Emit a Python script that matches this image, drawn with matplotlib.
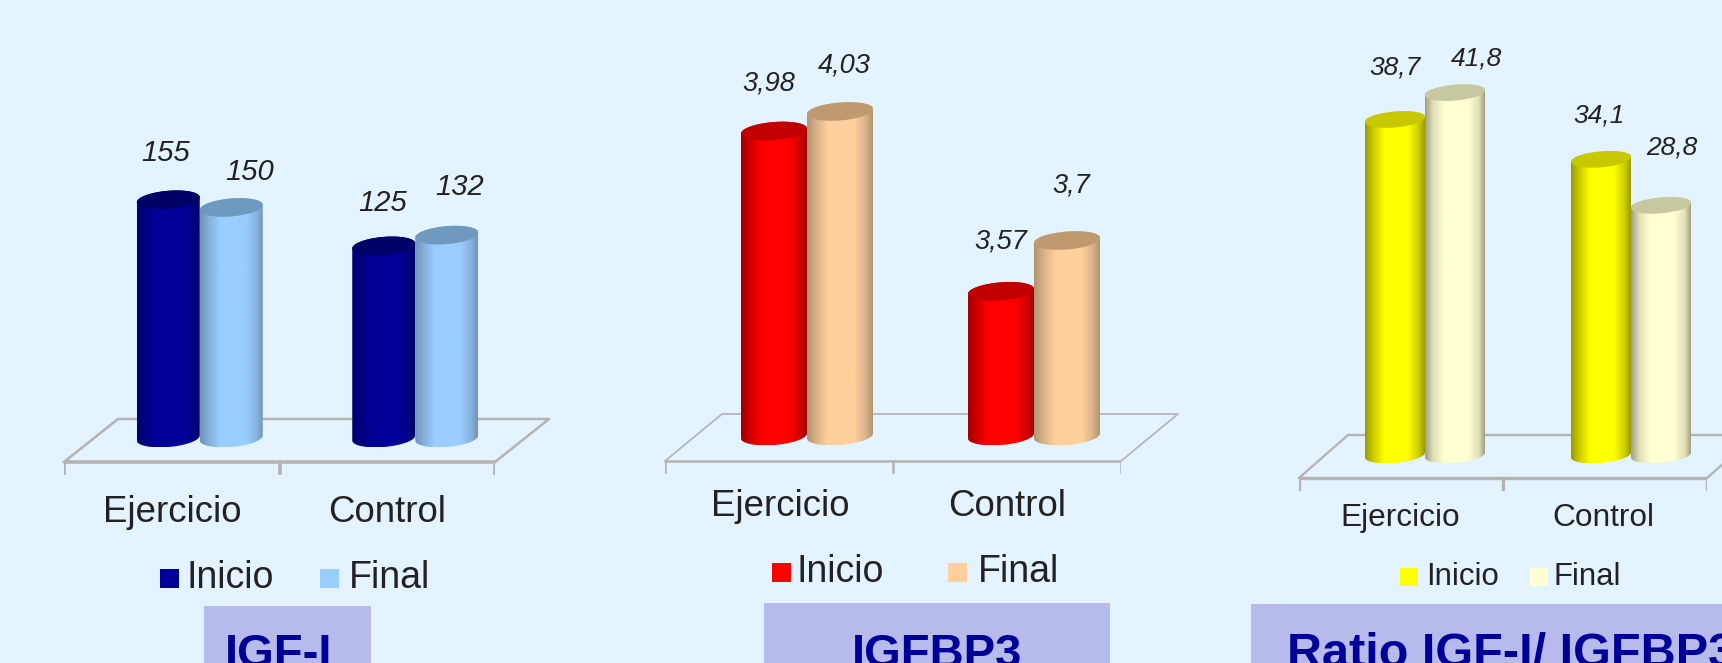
import numpy as np
import matplotlib
matplotlib.use('Agg')
import matplotlib.pyplot as plt
from matplotlib.colors import LinearSegmentedColormap
from matplotlib.patches import PathPatch, Polygon, Rectangle
from matplotlib.path import Path

W, H = 1722, 663
plt.rcParams['font.family'] = ['Liberation Sans', 'DejaVu Sans']

categories = ['Ejercicio', 'Control']
series_names = ['Inicio', 'Final']

igf_inicio = [155, 125]
igf_final = [150, 132]
igf_labels = [['155', '125'], ['150', '132']]

bp3_inicio = [3.98, 3.57]
bp3_final = [4.03, 3.7]
bp3_labels = [['3,98', '3,57'], ['4,03', '3,7']]

ratio_inicio = [38.7, 34.1]
ratio_final = [41.8, 28.8]
ratio_labels = [['38,7', '34,1'], ['41,8', '28,8']]

titles = ['IGF-I', 'IGFBP3', 'Ratio IGF-I/ IGFBP3']

BG = '#e3f3ff'
BOX = '#b6bbec'
NAVY = '#000099'
FLOOR = '#b4b4b4'

# (edge, mid, centre, cap) shades of one cylinder
navy = ('#00006a', '#000080', '#000099', '#000066')
sky = ('#6f93b5', '#85b0da', '#99ceff', '#7099bf')
red = ('#a00000', '#d00000', '#ff0000', '#c00000')
tan = ('#b09470', '#d8b088', '#ffd09c', '#c09a6f')
yellow = ('#999900', '#cccc00', '#ffff00', '#c8c800')
cream = ('#a0a080', '#e0e0b8', '#ffffd4', '#c8c8a0')


def cylinder(ax, cx, r, low, value, k, shades, hh, tilt):
    t = np.linspace(np.pi, 2 * np.pi, 40)
    xb = cx + r * np.cos(t)
    yb = low + (hh * np.sin(t) + tilt * np.cos(t)) / k
    t = np.linspace(0, np.pi, 40)
    xt = cx + r * np.cos(t)
    yt = value + (hh * np.sin(t) + tilt * np.cos(t)) / k
    outline = Path(np.column_stack([np.r_[xb, xt], np.r_[yb, yt]]))

    cmap = LinearSegmentedColormap.from_list('c', [
        (0, shades[0]), (0.14, shades[1]), (0.32, shades[2]),
        (0.72, shades[2]), (0.9, shades[1]), (1, shades[0])])
    grad = np.linspace(0, 1, 256).reshape(1, -1)
    im = ax.imshow(grad, cmap=cmap, aspect='auto', zorder=3,
                   extent=(cx - r, cx + r, yb.min(), yt.max()))
    clip = PathPatch(outline, transform=ax.transData, fc='none', ec='none')
    ax.add_patch(clip)
    im.set_clip_path(clip)

    t = np.linspace(0, 2 * np.pi, 80)
    cap = np.column_stack([cx + r * np.cos(t),
                           value + (hh * np.sin(t) + tilt * np.cos(t)) / k])
    ax.add_patch(Polygon(cap, closed=True, fc=shades[3], ec='none', zorder=4))


def draw_chart(fig, inicio, final, labels, colors, ymin, k, base, x0, x1,
               front, back, depth, bar_w, shift, hh, lab_dx, lab_dy, size, floor_lw):
    bottom = front + 14
    ax = fig.add_axes([x0 / W, 1 - bottom / H, (x1 - x0) / W, bottom / H])
    ax.set_axis_off()
    unit = (x1 - x0) / 2

    # floor of the plot, y given in pixels below the zero line
    def fy(p):
        return ymin + (base - p) / k

    dxn = depth / unit
    ax.plot([0, 2], [fy(front), fy(front)], color=FLOOR, lw=floor_lw, zorder=1)
    ax.plot([0, dxn, 2 + dxn, 2], [fy(front), fy(back), fy(back), fy(front)],
            color=FLOOR, lw=floor_lw * 0.7, zorder=1, clip_on=False)
    for i in range(3):
        ax.plot([i, i], [fy(front), fy(front + 11)], color=FLOOR, lw=floor_lw, zorder=1)

    r = bar_w / unit / 2
    for s, vals in enumerate([inicio, final]):
        for c, v in enumerate(vals):
            cx = c + 0.5 + (shift[c] + (2 * s - 1) * bar_w / 2) / unit
            cylinder(ax, cx, r, ymin, v, k, colors[s], hh, 2.5)
            ax.annotate(labels[s][c], (cx, v), xytext=(lab_dx[s][c], lab_dy[s][c]),
                        textcoords='offset pixels', ha='center', va='center',
                        style='italic', fontsize=size, color='#222222', zorder=6)

    ax.set_xlim(0, 2)
    ax.set_ylim(fy(bottom), ymin + base / k)
    return ax


fig = plt.figure(figsize=(W / 100, H / 100), dpi=100, facecolor=BG)

# page furniture, placed in pixel coordinates
page = fig.add_axes([0, 0, 1, 1], zorder=-1)
page.set_xlim(0, W)
page.set_ylim(H, 0)
page.set_axis_off()

for x, w, y in [(204, 167, 606), (764, 346, 603), (1251, 471, 604)]:
    page.add_patch(Rectangle((x, y), w, H - y, fc=BOX, ec='none'))
page.text(279, 667, titles[0], ha='center', va='baseline', fontsize=34,
          fontweight='bold', color=NAVY)
page.text(937, 667, titles[1], ha='center', va='baseline', fontsize=34,
          fontweight='bold', color=NAVY)
page.text(1287, 667, titles[2], ha='left', va='baseline', fontsize=35,
          fontweight='bold', color=NAVY)

cat_pos = [(172, 387, 512, 26.4), (780, 1007, 506, 26.4), (1400, 1603, 518, 22.8)]
for xa, xb, y, fs in cat_pos:
    for x, name in zip((xa, xb), categories):
        page.text(x, y, name, ha='center', va='center', fontsize=fs, color='#222222')

legend_pos = [
    (160, 187, 320, 349, 578, 19, 27, navy, sky),
    (772, 797, 948, 978, 572, 19, 27, red, tan),
    (1400, 1426, 1530, 1553, 577, 18, 22.4, yellow, cream),
]
for xs1, xt1, xs2, xt2, y, sq, fs, c1, c2 in legend_pos:
    page.add_patch(Rectangle((xs1, y - sq / 2), sq, sq, fc=c1[2], ec='none'))
    page.add_patch(Rectangle((xs2, y - sq / 2), sq, sq, fc=c2[2], ec='none'))
    page.text(xt1, y, series_names[0], va='center', fontsize=fs, color='#222222')
    page.text(xt2, y, series_names[1], va='center', fontsize=fs, color='#222222')

draw_chart(fig, igf_inicio, igf_final, igf_labels, (navy, sky), 0, 1.537, 438,
           64, 495, 462, 419, 54, 63, (28, 28), 9,
           [[-3, -1], [18, 13]], [[47, 43], [35, 48]], 21, 2.6)
draw_chart(fig, bp3_inicio, bp3_final, bp3_labels, (red, tan), 3.2, 391, 436,
           665, 1121, 461, 414, 57, 66, (28, 27), 9,
           [[-5, 0], [4, 4]], [[48, 50], [46, 55]], 19.5, 1.8)
draw_chart(fig, ratio_inicio, ratio_final, ratio_labels, (yellow, cream), 0, 8.67, 455,
           1299, 1707, 478, 435, 49, 60, (24, 26), 8,
           [[0, -2], [21, 11]], [[52, 44], [34, 58]], 19, 2.4)

plt.savefig('out.png', dpi=100, facecolor=BG)
